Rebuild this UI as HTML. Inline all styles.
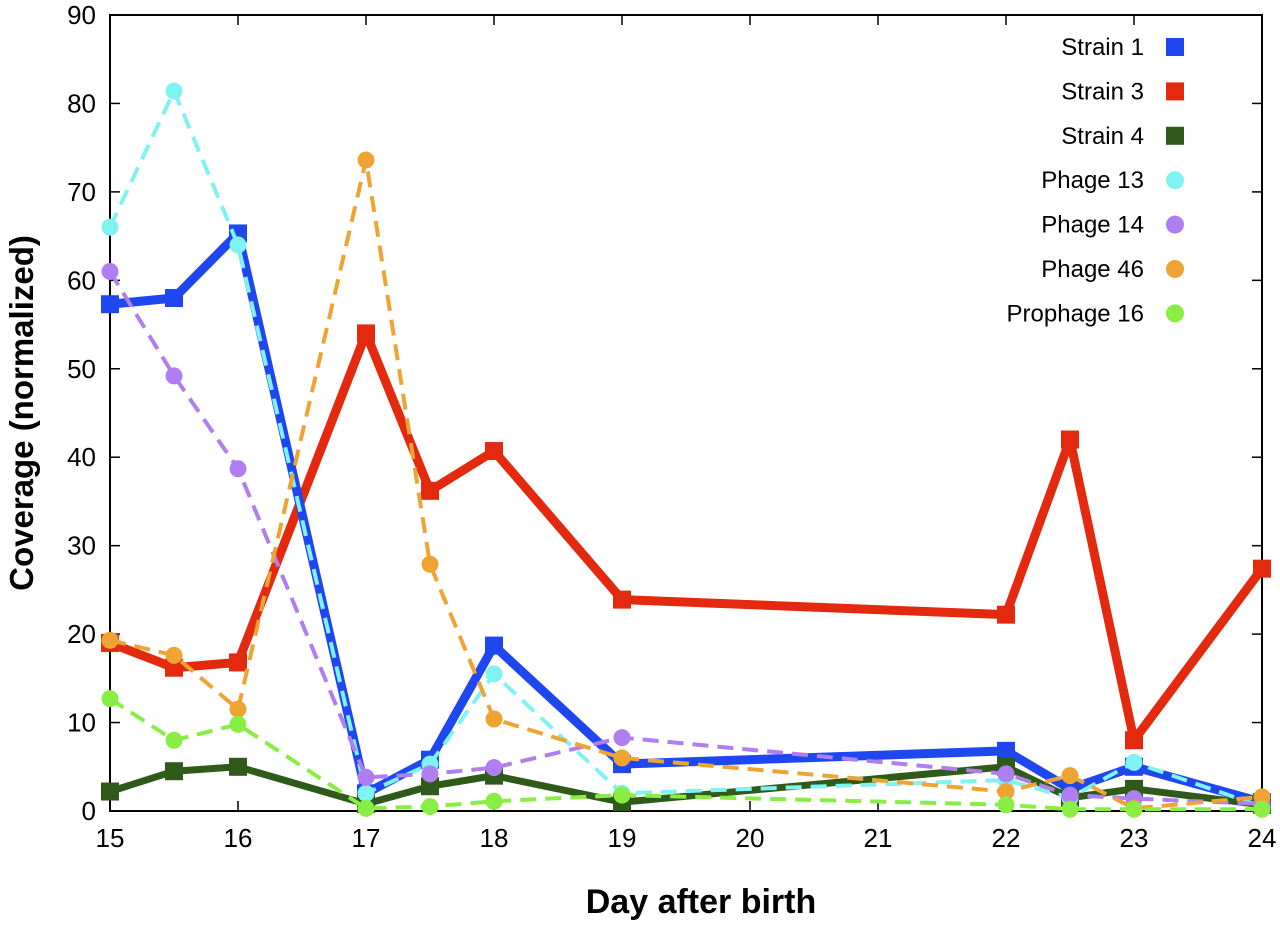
<!DOCTYPE html>
<html><head><meta charset="utf-8"><style>
body{margin:0;background:#fff;}
svg text{font-family:"Liberation Sans",Arial,sans-serif;}
</style></head><body>
<svg id="chart" width="1280" height="925" xmlns="http://www.w3.org/2000/svg">
<g id="grid"></g>
<g id="series"></g>
<g id="legend"></g>
<text x="701" y="913" font-size="34" font-weight="bold" text-anchor="middle">Day after birth</text>
<text transform="translate(33,413) rotate(-90)" font-size="33" font-weight="bold" text-anchor="middle">Coverage (normalized)</text>
</svg>
<script>
const days=[15,15.5,16,17,17.5,18,19,22,22.5,23,24];
const strain1=[57.3,58,65.3,2,5.8,18.7,5.3,6.8,2.5,5,1];
const strain3=[19,16.2,16.8,54,36.2,40.7,23.9,22.2,42,8,27.4];
const strain4=[2.2,4.5,5,0.8,2.8,4,1,5,1.5,2.5,0.7];
const phage13=[66,81.4,64,2,5.3,15.5,2,3.5,1.5,5.5,0.5];
const phage14=[61,49.2,38.7,3.8,4.2,4.9,8.3,4.2,1.8,1.4,0.8];
const phage46=[19.3,17.6,11.5,73.6,27.9,10.4,6,2.2,4,0.3,1.6];
const prophage16=[12.7,8,9.8,0.3,0.5,1.1,1.8,0.7,0.2,0.2,0.2];
const xTicks=[15,16,17,18,19,20,21,22,23,24];
const yTicks=[0,10,20,30,40,50,60,70,80,90];
const seriesNames=["Strain 1","Strain 3","Strain 4","Phage 13","Phage 14","Phage 46","Prophage 16"];

const NS="http://www.w3.org/2000/svg";
const X0=110,X1=1262,Y0=811,Y1=15;
const xs=d=>X0+(d-15)/9*(X1-X0);
const ys=v=>Y0-v/90*(Y0-Y1);
function mk(tag,attrs,parent){const e=document.createElementNS(NS,tag);for(const k in attrs)e.setAttribute(k,attrs[k]);parent.appendChild(e);return e;}
const grid=document.getElementById('grid');
const frame=mk('rect',{x:X0,y:Y1,width:X1-X0,height:Y0-Y1,fill:'none',stroke:'#000','stroke-width':2},grid);


xTicks.forEach(t=>{
  mk('line',{x1:xs(t),x2:xs(t),y1:Y0,y2:Y0-10,stroke:'#000','stroke-width':1.5},grid);
  mk('line',{x1:xs(t),x2:xs(t),y1:Y1,y2:Y1+10,stroke:'#000','stroke-width':1.5},grid);
  const tx=mk('text',{x:xs(t),y:Y0+36,'font-size':26,'text-anchor':'middle'},grid);
  tx.textContent=t;
  
  
});
yTicks.forEach(t=>{
  mk('line',{x1:X0,x2:X0+10,y1:ys(t),y2:ys(t),stroke:'#000','stroke-width':1.5},grid);
  mk('line',{x1:X1,x2:X1-10,y1:ys(t),y2:ys(t),stroke:'#000','stroke-width':1.5},grid);
  const tx=mk('text',{x:X0-14,y:ys(t)+9,'font-size':26,'text-anchor':'end'},grid);
  tx.textContent=t;
  
  
});
const styles=[
 {data:strain3,color:'#e3290e',w:9,dash:'',m:'sq'},
 {data:strain1,color:'#1f47f0',w:9,dash:'',m:'sq'},
 {data:strain4,color:'#2f5a1a',w:7,dash:'',m:'sq'},
 {data:phage13,color:'#7ff2f2',w:4,dash:'16,9',m:'c'},
 {data:phage14,color:'#b07ef0',w:4,dash:'16,9',m:'c'},
 {data:phage46,color:'#eea333',w:4,dash:'16,9',m:'c'},
 {data:prophage16,color:'#88ee44',w:4,dash:'16,9',m:'c'}
];
const sg=document.getElementById('series');
styles.forEach((s,i)=>{
  const g=mk('g',{},sg);
  
  
  const pts=s.data.map((v,j)=>xs(days[j])+','+ys(v)).join(' ');
  mk('polyline',{points:pts,fill:'none',stroke:s.color,'stroke-width':s.w,'stroke-dasharray':s.dash,'stroke-linejoin':'round'},g);
  s.data.forEach((v,j)=>{
    let p;
    if(s.m==='sq') p=mk('rect',{x:xs(days[j])-9,y:ys(v)-9,width:18,height:18,fill:s.color},g);
    else p=mk('circle',{cx:xs(days[j]),cy:ys(v),r:8.5,fill:s.color},g);
    
    
  });
});
const lg=document.getElementById('legend');
const legendSeries=[styles[1],styles[0],styles[2],styles[3],styles[4],styles[5],styles[6]];
seriesNames.forEach((n,i)=>{
  const y=47+i*44.4;
  const s=legendSeries[i];
  const t=mk('text',{x:1144,y:y+8,'font-size':24,'text-anchor':'end'},lg);
  t.textContent=n;
  
  
  if(s.m==='sq') mk('rect',{x:1166,y:y-9,width:18,height:18,fill:s.color},lg);
  else mk('circle',{cx:1175,cy:y,r:9,fill:s.color},lg);
});
</script>
</body></html>
